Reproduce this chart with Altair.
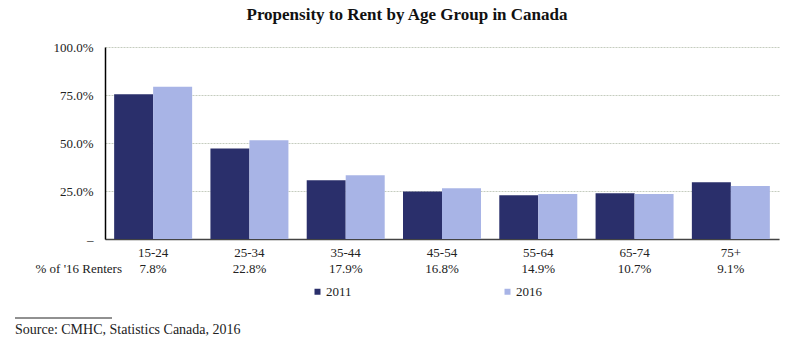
import altair as alt
import pandas as pd

ages = ["15-24", "25-34", "35-44", "45-54", "55-64", "65-74", "75+"]
rent_2011 = [0.754, 0.472, 0.306, 0.248, 0.228, 0.238, 0.295]
rent_2016 = [0.793, 0.514, 0.332, 0.264, 0.234, 0.234, 0.276]
renters_share = ["7.8%", "22.8%", "17.9%", "16.8%", "14.9%", "10.7%", "9.1%"]
years = ["2011", "2016"]
colors = ["#2A2F6B", "#A8B4E6"]

FONT = "Liberation Serif"

rows = []
for a, v1, v2 in zip(ages, rent_2011, rent_2016):
    rows.append({"age": a, "year": "2011", "rate": v1})
    rows.append({"age": a, "year": "2016", "rate": v2})
df = pd.DataFrame(rows)
share_df = pd.DataFrame({"age": ages, "share": renters_share})

xscale = alt.Scale(domain=ages, paddingInner=0.19, paddingOuter=0.095)

bars = alt.Chart(df).mark_bar().encode(
    x=alt.X("age:N", scale=xscale, sort=ages,
            axis=alt.Axis(title=None, labelAngle=0, ticks=False, labelPadding=7,
                          labelFont=FONT, labelFontSize=13, labelColor="#222",
                          domainColor="#444", domainWidth=1.5, grid=False)),
    xOffset=alt.XOffset("year:N", scale=alt.Scale(domain=years, paddingInner=0, paddingOuter=0)),
    y=alt.Y("rate:Q", scale=alt.Scale(domain=[0, 1]),
            axis=alt.Axis(title=None, values=[0, 0.25, 0.5, 0.75, 1.0],
                          labelExpr="datum.value == 0 ? '–' : format(datum.value, '.1%')",
                          ticks=False, labelPadding=12, labelFont=FONT, labelFontSize=13,
                          labelColor="#222", domainColor="#000", domainWidth=1.5,
                          grid=True, gridColor="#c5ccbf", gridDash=[2, 1], gridWidth=1)),
    color=alt.Color("year:N", scale=alt.Scale(domain=years, range=colors),
                    legend=alt.Legend(title=None, orient="none", legendX=206, legendY=238,
                                      direction="horizontal", symbolType="square",
                                      symbolSize=36, symbolStrokeWidth=0, labelOffset=2,
                                      columnPadding=149, labelFont=FONT, labelFontSize=13,
                                      labelColor="#222")),
)

share_text = alt.Chart(share_df).mark_text(font=FONT, fontSize=13, color="#222", baseline="middle").encode(
    x=alt.X("age:N", scale=xscale, sort=ages),
    y=alt.value(222),
    text="share:N",
)

ann = pd.DataFrame({"t": [0]})
row_label = alt.Chart(ann).mark_text(font=FONT, fontSize=13, color="#222", align="right", baseline="middle").encode(
    x=alt.value(17), y=alt.value(222), text=alt.value("% of '16 Renters"))

title = alt.Chart(ann).mark_text(font=FONT, fontSize=17, fontWeight="bold", color="#111", align="center", baseline="middle").encode(
    x=alt.value(302), y=alt.value(-32), text=alt.value("Propensity to Rent by Age Group in Canada"))

rule = alt.Chart(ann).mark_rule(color="#222", strokeWidth=1).encode(
    x=alt.value(-90), x2=alt.value(7), y=alt.value(271))

source = alt.Chart(ann).mark_text(font=FONT, fontSize=14, color="#222", align="left", baseline="middle").encode(
    x=alt.value(-90), y=alt.value(283), text=alt.value("Source: CMHC, Statistics Canada, 2016"))

chart = alt.layer(bars, share_text, row_label, title, rule, source).properties(
    width=674, height=192,
    padding={"left": 105, "top": 47, "right": 21, "bottom": 103},
    autosize="none",
    background="white",
).configure_view(stroke=None)

chart.save("out.html", embed_options={"renderer": "svg", "actions": False})
